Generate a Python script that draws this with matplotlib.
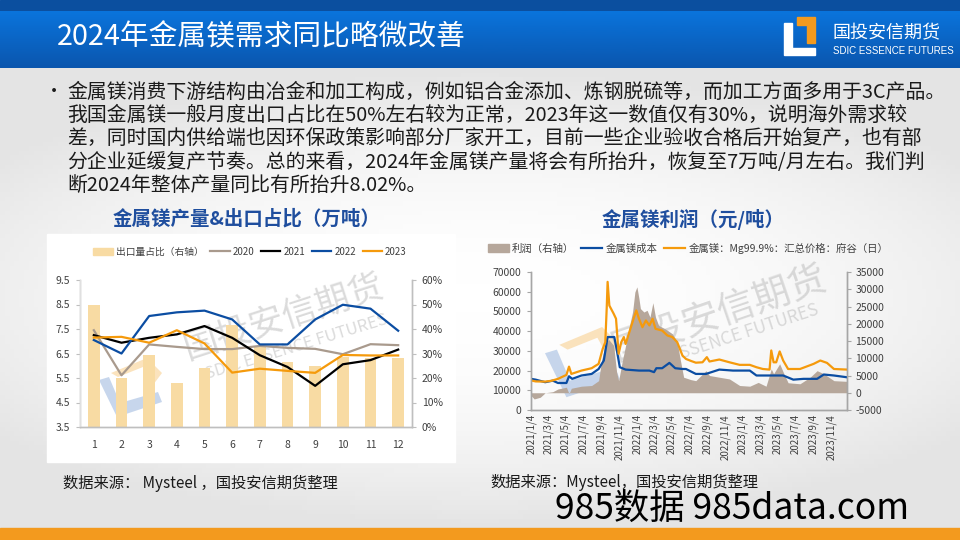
import numpy as np
import pandas as pd
import matplotlib
matplotlib.use('Agg')
import matplotlib.pyplot as plt
from matplotlib.patches import Polygon, Rectangle, Patch
from matplotlib.lines import Line2D
from matplotlib.colors import LinearSegmentedColormap
import matplotlib.ticker as mticker

plt.rcParams['font.family'] = ['Noto Sans CJK SC', 'DejaVu Sans']
plt.rcParams['axes.unicode_minus'] = False

# ---------------- left chart data (万吨 / %) ----------------
months = list(range(1, 13))
export_share = [50, 20, 29.3, 18, 24, 41.6, 32.7, 26.6, 24.8, 28.6, 28, 28]
output_2020 = [7.45, 5.61, 6.87, 6.77, 6.68, 6.68, 6.81, 6.73, 6.69, 6.47, 6.88, 6.84]
output_2021 = [7.25, 6.94, 7.14, 7.28, 7.62, 7.14, 6.43, 5.95, 5.18, 6.06, 6.23, 6.66]
output_2022 = [7.05, 6.50, 8.03, 8.18, 8.25, 7.89, 6.87, 6.87, 7.89, 8.49, 8.33, 7.43]
output_2023 = [7.15, 7.18, 6.94, 7.45, 6.91, 5.72, 5.88, 5.79, 5.71, 6.44, 6.42, 6.42]

# ---------------- right chart data (元/吨) ----------------
price_dates = ['2021-01-04', '2021-01-20', '2021-02-22', '2021-03-15', '2021-04-07', '2021-05-06',
               '2021-05-15', '2021-05-23', '2021-06-27', '2021-08-01', '2021-08-25', '2021-09-08',
               '2021-09-17', '2021-09-22', '2021-09-25', '2021-10-01', '2021-10-16', '2021-10-24',
               '2021-11-02', '2021-11-11', '2021-11-20', '2021-11-26', '2021-12-07', '2021-12-25',
               '2022-01-02', '2022-01-11', '2022-01-23', '2022-02-04', '2022-02-16', '2022-02-27',
               '2022-03-09', '2022-04-01', '2022-04-19', '2022-05-06', '2022-05-23', '2022-06-10',
               '2022-06-22', '2022-07-09', '2022-07-26', '2022-08-18', '2022-09-02', '2022-09-11',
               '2022-10-15', '2022-11-19', '2022-12-24', '2023-01-28', '2023-02-20', '2023-03-14',
               '2023-04-06', '2023-04-12', '2023-04-20', '2023-04-29', '2023-05-11', '2023-05-23',
               '2023-06-09', '2023-07-20', '2023-09-05', '2023-09-28', '2023-10-21', '2023-11-14',
               '2023-12-29']
price_vals = [15000, 14500, 14400, 14800, 15800, 17800,
              22000, 18300, 20000, 21200, 23400, 31000,
              34400, 52000, 65000, 53000, 48800, 46300,
              28500, 34400, 37000, 33500, 38600, 47000,
              50500, 46300, 42000, 45400, 42900, 46300,
              41200, 40300, 37800, 37000, 34400, 27600,
              25900, 24900, 24000, 24200, 26800, 24600,
              25600, 24200, 22900, 22900, 21700, 20800,
              20500, 30200, 24200, 24200, 29700, 25100,
              20800, 20800, 23400, 25100, 23900, 20800,
              20500]

cost_dates = ['2021-01-04', '2021-01-20', '2021-02-22', '2021-03-20', '2021-04-07', '2021-05-06',
              '2021-05-15', '2021-05-26', '2021-06-27', '2021-08-01', '2021-08-25', '2021-09-12',
              '2021-09-25', '2021-10-18', '2021-10-26', '2021-11-06', '2021-11-26', '2022-01-11',
              '2022-02-16', '2022-03-04', '2022-03-12', '2022-04-01', '2022-04-26', '2022-05-16',
              '2022-06-10', '2022-06-22', '2022-07-26', '2022-08-30', '2022-10-15', '2022-12-01',
              '2023-01-28', '2023-02-20', '2023-05-23', '2023-06-27', '2023-08-01', '2023-09-17',
              '2023-10-10', '2023-11-14', '2023-12-29']
cost_vals = [15800, 15400, 14100, 14900, 13700, 13700,
             17100, 15800, 17500, 18300, 20800, 25100,
             37000, 37000, 31000, 21700, 20500, 20000,
             20000, 19200, 21200, 21200, 23900, 21200,
             20800, 20800, 18300, 18300, 20500, 20000,
             20000, 17500, 17500, 15400, 15800, 15800,
             18000, 17500, 16600]

profit_dates = ['2021-01-04', '2021-01-15', '2021-02-05', '2021-02-22', '2021-03-20', '2021-04-07',
                '2021-05-06', '2021-05-15', '2021-05-23', '2021-06-27', '2021-08-01', '2021-08-25',
                '2021-09-05', '2021-09-17', '2021-09-28', '2021-10-16', '2021-10-26', '2021-11-02',
                '2021-11-14', '2021-11-26', '2021-12-07', '2021-12-20', '2021-12-28', '2022-01-04',
                '2022-01-11', '2022-01-16', '2022-01-28', '2022-02-08', '2022-02-18', '2022-02-28',
                '2022-03-09', '2022-03-20', '2022-04-12', '2022-05-06', '2022-05-23', '2022-06-02',
                '2022-06-14', '2022-07-09', '2022-07-26', '2022-08-30', '2022-09-11', '2022-10-15',
                '2022-11-19', '2022-12-24', '2023-01-28', '2023-02-26', '2023-03-25', '2023-04-12',
                '2023-04-20', '2023-05-11', '2023-05-23', '2023-06-09', '2023-07-20', '2023-08-24',
                '2023-09-17', '2023-10-10', '2023-11-14', '2023-12-29']
profit_vals = [-800, -1800, -1300, 0, 300, 1100,
               1600, -300, 1300, 1900, 2100, 3500,
               9800, 13700, 15500, 13700, 6000, 3500,
               8900, 13700, 18500, 23400, 29200, 30700,
               27300, 24400, 23400, 23900, 21900, 26100,
               21900, 19500, 18500, 17100, 14700, 9800,
               4500, 3800, 3500, 6400, 5000, 4500,
               4000, 2100, 1900, 3000, 1900, 6900,
               5500, 8400, 6000, 2900, 2600, 4500,
               6400, 5500, 3500, 3300]

body_lines = [
    '金属镁消费下游结构由冶金和加工构成，例如铝合金添加、炼钢脱硫等，而加工方面多用于3C产品。',
    '我国金属镁一般月度出口占比在50%左右较为正常，2023年这一数值仅有30%，说明海外需求较',
    '差，同时国内供给端也因环保政策影响部分厂家开工，目前一些企业验收合格后开始复产，也有部',
    '分企业延缓复产节奏。总的来看，2024年金属镁产量将会有所抬升，恢复至7万吨/月左右。我们判',
    '断2024年整体产量同比有所抬升8.02%。',
]

W, H = 960, 540
BAR = '#F8DBA3'
C2020, C2021, C2022, C2023 = '#A99A8D', '#000000', '#0B4DA2', '#F59A0C'
PROFIT = '#B6A79B'
TITLE_BLUE = '#1F4E9E'
AXIS_GRAY = '#BFBFBF'
TICK_TXT = '#404040'


def fig_rect(x0, y0, x1, y1):
    return [x0 / W, 1 - y1 / H, (x1 - x0) / W, (y1 - y0) / H]


fig = plt.figure(figsize=(9.6, 5.4), dpi=100)

# background layer in pixel coordinates
bg = fig.add_axes([0, 0, 1, 1], zorder=0)
bg.set_xlim(0, W)
bg.set_ylim(H, 0)
bg.axis('off')

# body: soft light-gray gradient
gx, gy = np.meshgrid(np.linspace(-1, 1, 200), np.linspace(-1, 1, 100))
shade = 1 - 0.07 * (0.6 * gx ** 2 + gy ** 2)
body_cmap = LinearSegmentedColormap.from_list('body', ['#E4E4E4', '#FFFFFF'])
bg.imshow(shade, cmap=body_cmap, vmin=0.93, vmax=1, extent=(0, W, 528, 68), aspect='auto', zorder=0)

# header band
bg.add_patch(Rectangle((0, 0), W, 11, color='#0B4F9F', zorder=1))
head = np.linspace(0, 1, 60).reshape(-1, 1)
head_cmap = LinearSegmentedColormap.from_list('head', ['#0A74DC', '#0A56AE'])
bg.imshow(head, cmap=head_cmap, extent=(0, W, 68, 11), aspect='auto', zorder=1)
bg.text(57, 37, '2024年金属镁需求同比略微改善', color='white', fontsize=20.7, va='center', ha='left', zorder=3)

# logo
bg.add_patch(Polygon([(784, 23), (792, 23), (792, 48), (815, 48), (815, 55), (784, 55)], color='white', zorder=3))
bg.add_patch(Polygon([(797, 17), (815, 17), (815, 43), (807, 43), (807, 25), (797, 25)], color='#F39A1E', zorder=3))
bg.text(833, 33, '国投安信期货', color='white', fontsize=13, va='center', ha='left', zorder=3)
bg.text(833, 51, 'SDIC ESSENCE FUTURES', color='white', fontsize=7,
        family=['Liberation Sans Narrow', 'Liberation Sans'], va='center', ha='left', zorder=3)

# bottom strip
bg.add_patch(Rectangle((0, 528), W, 12, color='#F39A1E', zorder=1))

# bullet text
bg.text(45, 92, '•', fontsize=13, va='center', ha='left', color='#1A1A1A', zorder=3)
for i, line in enumerate(body_lines):
    bg.text(67, 92 + i * 23.6, line, fontsize=14.3, va='center', ha='left', color='#1A1A1A', zorder=3)

# left chart panel and titles
bg.add_patch(Rectangle((47, 234), 408, 228, color='white', zorder=1))
bg.text(247, 219, '金属镁产量&出口占比（万吨）', fontsize=14, fontweight='bold', color=TITLE_BLUE,
        ha='center', va='center', zorder=3)
bg.text(693, 219, '金属镁利润（元/吨）', fontsize=14, fontweight='bold', color=TITLE_BLUE,
        ha='center', va='center', zorder=3)


def logo_mark(x0, y0, s):
    blue = [(99, 380), (109, 377), (120, 403), (158, 392), (162, 402), (117, 417)]
    orange = [(111, 373), (147, 358), (162, 373), (153, 385), (143, 367), (118, 377)]
    for pts, col in ((orange, '#F9D49A'), (blue, '#A9C1E3')):
        p = [((x - 99) * s + x0, (y - 358) * s + y0) for x, y in pts]
        bg.add_patch(Polygon(p, color=col, alpha=0.65, lw=0, zorder=2))


# watermarks
logo_mark(99, 358, 1.0)
logo_mark(545, 327, 1.19)
for cx, cy, rot, fs, fs2, cx2, cy2 in ((283, 318, 18, 25, 12, 296, 347), (720, 314, 19, 27, 12.5, 724, 340)):
    bg.text(cx, cy, '国投安信期货', fontsize=fs, color='#B0B0B0', alpha=0.45, rotation=rot,
            rotation_mode='anchor', ha='center', va='center', zorder=2)
    bg.text(cx2, cy2, 'SDIC ESSENCE FUTURES', fontsize=fs2, color='#B0B0B0', alpha=0.45, rotation=rot - 1,
            rotation_mode='anchor', ha='center', va='center', zorder=2)

# footer
bg.text(63, 483, '数据来源： Mysteel ，国投安信期货整理', fontsize=11, va='center', ha='left', color='#1A1A1A', zorder=3)
bg.text(490, 482, '数据来源：Mysteel，国投安信期货整理', fontsize=11, va='center', ha='left', color='#1A1A1A', zorder=3)
bg.text(555, 509, '985数据 985data.com', fontsize=25.5, va='center', ha='left', color='black',
        family=['Liberation Sans Narrow', 'Noto Sans CJK SC'], zorder=3)

# ---------------- left chart ----------------
ax1 = fig.add_axes(fig_rect(80, 280, 412, 427), zorder=5)
ax1r = ax1.twinx()
ax1r.bar(months, export_share, width=0.42, color=BAR, zorder=1)
ax1r.set_ylim(0, 60)
ax1r.set_yticks(range(0, 61, 10))
ax1r.yaxis.set_major_formatter(mticker.FuncFormatter(lambda v, p: f'{v:.0f}%'))

for vals, col in ((output_2020, C2020), (output_2021, C2021), (output_2022, C2022), (output_2023, C2023)):
    ax1.plot(months, vals, color=col, lw=1.6)
ax1.set_zorder(ax1r.get_zorder() + 1)
ax1.patch.set_visible(False)
ax1r.patch.set_visible(False)
ax1.set_xlim(0.5, 12.5)
ax1.set_ylim(3.5, 9.5)
ax1.set_yticks(np.arange(3.5, 9.6, 1.0))
ax1.yaxis.set_major_formatter(mticker.FormatStrFormatter('%.1f'))
ax1.set_xticks(months)

for a in (ax1, ax1r):
    a.spines['top'].set_visible(False)
    for s in ('left', 'right', 'bottom'):
        a.spines[s].set_color(AXIS_GRAY)
        a.spines[s].set_linewidth(1.0)
ax1.spines['left'].set_color('#E0E0E0')
ax1.tick_params(axis='y', length=3, color=AXIS_GRAY, labelsize=7.5, labelcolor=TICK_TXT, pad=4)
ax1.tick_params(axis='x', length=0, labelsize=7.5, labelcolor=TICK_TXT, pad=9)
ax1r.tick_params(axis='y', length=3, color=AXIS_GRAY, labelsize=7.5, labelcolor=TICK_TXT, pad=4)

handles1 = [Patch(color=BAR), Line2D([], [], color=C2020, lw=1.6), Line2D([], [], color=C2021, lw=1.6),
            Line2D([], [], color=C2022, lw=1.6), Line2D([], [], color=C2023, lw=1.6)]
labels1 = ['出口量占比（右轴）', '2020', '2021', '2022', '2023']
ax1.legend(handles1, labels1, loc='center', bbox_to_anchor=(250 / W, 1 - 252 / H), bbox_transform=fig.transFigure,
           ncol=5, frameon=False, fontsize=7, handlelength=2.0, handleheight=0.8, handletextpad=0.3,
           columnspacing=0.7, labelcolor=TICK_TXT)

# ---------------- right chart ----------------
ax2 = fig.add_axes(fig_rect(531, 272, 847, 410), zorder=5)
ax2r = ax2.twinx()
pdates = pd.to_datetime(profit_dates)
ax2r.fill_between(pdates, 0, profit_vals, color=PROFIT, lw=0)
ax2r.set_ylim(-5000, 35000)
ax2r.set_yticks(range(-5000, 35001, 5000))

ax2.plot(pd.to_datetime(cost_dates), cost_vals, color=C2022, lw=1.6)
ax2.plot(pd.to_datetime(price_dates), price_vals, color=C2023, lw=1.6)
ax2.set_zorder(ax2r.get_zorder() + 1)
ax2.patch.set_visible(False)
ax2r.patch.set_visible(False)
ax2.set_ylim(0, 70000)
ax2.set_yticks(range(0, 70001, 10000))
ax2.set_xlim(pdates[0], pdates[-1])

tick_dates = pd.date_range('2021-01-04', '2023-11-04', freq=pd.DateOffset(months=2))
ax2.set_xticks(tick_dates)
ax2.set_xticklabels([f'{d.year}/{d.month}/{d.day}' for d in tick_dates], rotation=90)

for a in (ax2, ax2r):
    a.spines['top'].set_visible(False)
    for s in ('left', 'right', 'bottom'):
        a.spines[s].set_color('#A6A6A6')
        a.spines[s].set_linewidth(1.0)
ax2.tick_params(axis='y', length=3, color='#A6A6A6', labelsize=7.5, labelcolor=TICK_TXT, pad=4)
ax2.tick_params(axis='x', length=0, labelsize=7, labelcolor=TICK_TXT, pad=3)
ax2r.tick_params(axis='y', length=3, color='#A6A6A6', labelsize=7.5, labelcolor=TICK_TXT, pad=3)

handles2 = [Patch(color=PROFIT), Line2D([], [], color=C2022, lw=1.6), Line2D([], [], color=C2023, lw=1.6)]
labels2 = ['利润（右轴）', '金属镁成本', '金属镁：Mg99.9%：汇总价格：府谷（日）']
ax2.legend(handles2, labels2, loc='center', bbox_to_anchor=(688 / W, 1 - 248 / H), bbox_transform=fig.transFigure,
           ncol=3, frameon=False, fontsize=7.5, handlelength=2.0, handleheight=0.9, handletextpad=0.3,
           columnspacing=0.7, labelcolor=TICK_TXT)

fig.savefig('out.png', dpi=100)
plt.close(fig)
